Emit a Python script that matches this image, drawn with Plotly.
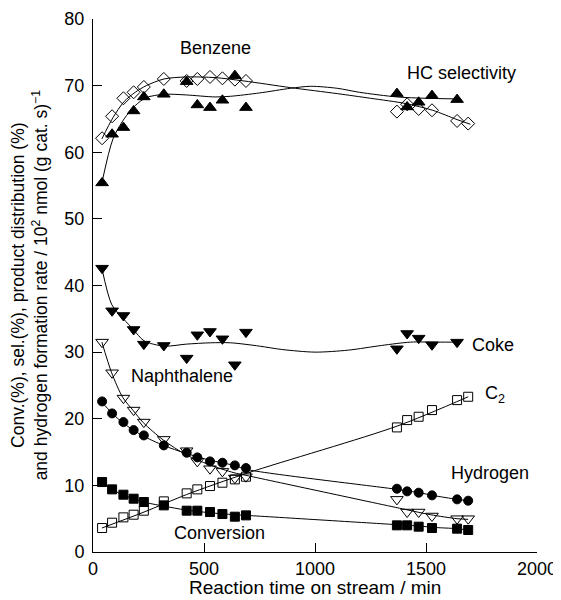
import plotly.graph_objects as go

t_early = [41, 86, 137, 183, 229, 319, 422, 470, 527, 583, 639, 689]
t_late6 = [1369, 1415, 1467, 1527, 1640, 1690]
t_late5 = [1369, 1415, 1467, 1527, 1640]

benzene_early = [55.4, 62.7, 63.7, 66.2, 68.3, 68.7, 70.6, 67.1, 66.7, 67.8, 71.5, 66.7]
benzene_late = [68.8, 66.8, 67.5, 68.5, 67.9]
hcsel_early = [62.1, 65.4, 68.1, 69.0, 69.8, 71.0, 70.7, 71.0, 71.3, 71.1, 70.9, 70.7]
hcsel_late = [66.1, 67.2, 66.5, 66.3, 64.7, 64.3]
coke_early = [42.6, 36.2, 35.5, 33.4, 31.2, 31.0, 29.1, 32.6, 33.1, 32.0, 28.1, 33.0]
coke_late = [30.5, 32.8, 32.1, 31.1, 31.5]
naph_early = [31.5, 26.9, 23.1, 21.3, 19.5, 16.9, 15.2, 13.6, 12.5, 12.1, 11.1, 11.3]
naph_late = [7.9, 6.0, 6.0, 5.4, 5.0, 5.0]
hyd_early = [22.6, 20.8, 19.5, 18.3, 17.5, 16.0, 14.9, 14.2, 13.6, 13.4, 13.0, 12.6]
hyd_late = [9.5, 9.1, 8.9, 8.5, 7.9, 7.7]
conv_early = [10.5, 9.4, 8.6, 8.0, 7.5, 7.0, 6.2, 6.2, 6.0, 5.7, 5.3, 5.5]
conv_late = [4.0, 4.0, 3.8, 3.6, 3.5, 3.3]
c2_early = [3.6, 4.4, 5.2, 5.6, 6.2, 7.6, 8.8, 9.4, 9.9, 10.4, 10.9, 11.3]
c2_late = [18.7, 19.8, 20.3, 21.3, 22.8, 23.3]

# ---- fitted trend curves ----
benz_fit_t = [40, 90, 140, 190, 240, 320, 420, 550, 620, 750, 890, 980, 1100, 1200, 1370, 1500, 1650]
benz_fit_y = [55.4, 62.0, 65.0, 67.0, 68.2, 68.7, 68.6, 68.3, 68.4, 68.9, 69.6, 69.9, 69.6, 69.0, 68.3, 68.1, 68.0]
hc_fit_t = [40, 90, 140, 190, 240, 320, 420, 550, 680, 890, 1100, 1250, 1410, 1530, 1640, 1700]
hc_fit_y = [62.0, 65.2, 67.6, 69.0, 70.0, 71.0, 71.3, 71.2, 70.7, 69.7, 68.8, 68.1, 67.3, 66.3, 64.9, 64.2]
coke_fit_t = [40, 85, 137, 182, 230, 320, 420, 530, 620, 750, 850, 1000, 1150, 1300, 1430, 1550, 1650]
coke_fit_y = [42.6, 37.1, 35.0, 33.4, 31.7, 30.9, 31.2, 31.4, 31.4, 30.9, 30.4, 30.0, 30.3, 31.0, 31.5, 31.5, 31.5]
naph_fit_t = [40, 84, 134, 182, 227, 317, 419, 524, 635, 690, 1405, 1520, 1640, 1690]
naph_fit_y = [31.5, 26.9, 23.2, 21.2, 19.4, 16.8, 14.6, 13.1, 11.9, 11.5, 6.4, 5.6, 5.0, 4.9]
hyd_fit_t = [40, 84, 134, 182, 227, 317, 419, 524, 635, 690, 1370, 1470, 1530, 1640, 1690]
hyd_fit_y = [22.5, 20.9, 19.4, 18.3, 17.4, 16.0, 14.8, 13.8, 13.0, 12.4, 9.4, 8.9, 8.5, 7.9, 7.7]
conv_fit_t = [40, 84, 134, 182, 227, 317, 419, 524, 635, 690, 1370, 1470, 1530, 1640, 1690]
conv_fit_y = [10.5, 9.4, 8.6, 8.0, 7.5, 6.9, 6.3, 5.9, 5.6, 5.5, 4.1, 3.9, 3.7, 3.5, 3.3]
c2_fit_t = [40, 230, 420, 700, 1370, 1690]
c2_fit_y = [3.6, 6.0, 8.6, 11.9, 18.9, 23.3]

x_ticks = [0, 500, 1000, 1500, 2000]
y_ticks = [0, 10, 20, 30, 40, 50, 60, 70, 80]

FONT = "Liberation Sans, Arial, Helvetica, sans-serif"

fig = go.Figure()

fits = [
    (benz_fit_t, benz_fit_y), (hc_fit_t, hc_fit_y), (coke_fit_t, coke_fit_y),
    (naph_fit_t, naph_fit_y), (hyd_fit_t, hyd_fit_y), (conv_fit_t, conv_fit_y),
    (c2_fit_t, c2_fit_y),
]
for ft, fy in fits:
    fig.add_trace(go.Scatter(x=ft, y=fy, mode="lines",
                             line=dict(color="black", width=1, shape="spline", smoothing=0.8),
                             showlegend=False, hoverinfo="skip"))

series = [
    ("HC selectivity", t_early + t_late6, hcsel_early + hcsel_late, "diamond-open", 10),
    ("Benzene", t_early + t_late5, benzene_early + benzene_late, "triangle-up", 11),
    ("Coke", t_early + t_late5, coke_early + coke_late, "triangle-down", 11),
    ("Naphthalene", t_early + t_late6, naph_early + naph_late, "triangle-down-open", 11),
    ("C2", t_early + t_late6, c2_early + c2_late, "square-open", 9),
    ("Hydrogen", t_early + t_late6, hyd_early + hyd_late, "circle", 9),
    ("Conversion", t_early + t_late6, conv_early + conv_late, "square", 9),
]
for name, xs, ys, sym, sz in series:
    fig.add_trace(go.Scatter(x=xs, y=ys, mode="markers", name=name,
                             marker=dict(symbol=sym, size=sz, color="black",
                                         line=dict(color="black", width=1)),
                             showlegend=False))

labels = [
    ("Benzene", 550, 75.6, "center"),
    ("HC selectivity", 1662, 71.9, "center"),
    ("Coke", 1700, 31.0, "left"),
    ("C<sub>2</sub>", 1755, 23.6, "left"),
    ("Hydrogen", 1788, 11.9, "center"),
    ("Naphthalene", 400, 26.4, "center"),
    ("Conversion", 569, 2.8, "center"),
]
for txt, lx, ly, anc in labels:
    fig.add_annotation(x=lx, y=ly, text=txt, showarrow=False, xanchor=anc, yanchor="middle",
                       font=dict(family=FONT, size=18, color="black"))

fig.add_annotation(xref="paper", yref="paper", x=0.5, y=-0.066,
                   text="Reaction time on stream / min", showarrow=False,
                   xanchor="center", yanchor="middle",
                   font=dict(family=FONT, size=19, color="black"))
fig.add_annotation(xref="paper", yref="paper", x=-0.141, y=0.501,
                   text="Conv.(%), sel.(%), product distribution (%)<br>"
                        "and hydrogen formation rate / 10<sup>2</sup> nmol (g cat. s)<sup>\u22121</sup>",
                   showarrow=False, textangle=-90, xanchor="center", yanchor="middle",
                   font=dict(family=FONT, size=17.5, color="black"))

axis_common = dict(showline=True, linecolor="black", linewidth=1, ticks="inside",
                   ticklen=9, tickwidth=1, tickcolor="black", showgrid=False, zeroline=False,
                   tickfont=dict(family=FONT, size=18, color="black"), mirror=False,
                   automargin=False)
fig.update_xaxes(range=[0, 2000], tickvals=x_ticks, **axis_common)
fig.update_yaxes(range=[0, 80], tickvals=y_ticks, ticklabelstandoff=4, **axis_common)

# page body has an 8px margin: figure sized/positioned so the plot area lands where the reference has it
fig.update_layout(width=553, height=592, margin=dict(l=85, r=24, t=11, b=47.5, autoexpand=False),
                  plot_bgcolor="white", paper_bgcolor="white", showlegend=False)

fig.write_html("out.html")
